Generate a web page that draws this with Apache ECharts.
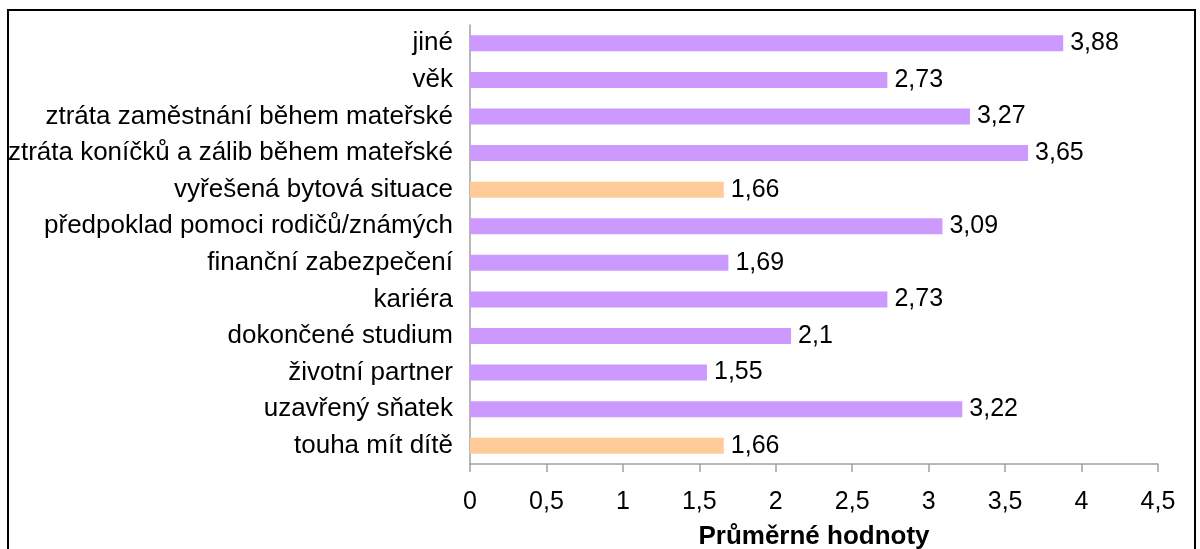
<!DOCTYPE html>
<html><head><meta charset="utf-8">
<script src="https://cdn.jsdelivr.net/npm/echarts@6/dist/echarts.min.js"></script>
<style>html,body{margin:0;padding:0;background:#fff}#c{width:1200px;height:549px}</style>
</head><body><div id="c"></div>
<script>
const categories = ["jiné","věk","ztráta zaměstnání během mateřské","ztráta koníčků a zálib během mateřské","vyřešená bytová situace","předpoklad pomoci rodičů/známých","finanční zabezpečení","kariéra","dokončené studium","životní partner","uzavřený sňatek","touha mít dítě"];
const values = [3.88,2.73,3.27,3.65,1.66,3.09,1.69,2.73,2.1,1.55,3.22,1.66];
const highlighted = ["vyřešená bytová situace","touha mít dítě"];
const axisName = "Průměrné hodnoty";
const purple = "#CC99FF", orange = "#FFCC99";
const fmt = v => String(v).replace('.', ',');
const chart = echarts.init(document.getElementById('c'));
chart.setOption({
  animation:false,
  textStyle:{fontFamily:'Liberation Sans, Arial, sans-serif'},
  graphic:[{type:'rect',shape:{x:8,y:10,width:1187,height:600},style:{fill:'none',stroke:'#000',lineWidth:2}}],
  grid:{left:470,right:42,top:25,bottom:85,containLabel:false,outerBoundsMode:'none'},
  xAxis:{type:'value',min:0,max:4.5,interval:0.5,
    axisLine:{show:true,lineStyle:{color:'#a0a0a0',width:1.5}},
    axisTick:{show:true,length:8,lineStyle:{color:'#a0a0a0',width:1.5}},
    splitLine:{show:false},
    axisLabel:{color:'#000',fontSize:25,margin:26,formatter:v=>fmt(v)},
    name:axisName,nameLocation:'middle',nameGap:60,
    nameTextStyle:{color:'#000',fontSize:26,fontWeight:'bold'}},
  yAxis:{type:'category',data:categories,inverse:true,
    axisLine:{show:true,lineStyle:{color:'#a0a0a0',width:1.5}},
    axisTick:{show:false},
    axisLabel:{color:'#000',fontSize:26,margin:17}},
  series:[{type:'bar',barWidth:16,
    data:values.map((v,i)=>({value:v,itemStyle:{color:highlighted.includes(categories[i])?orange:purple}})),
    label:{show:true,position:'right',distance:7,color:'#000',fontSize:25,formatter:p=>fmt(p.value)}}]
});
</script></body></html>
